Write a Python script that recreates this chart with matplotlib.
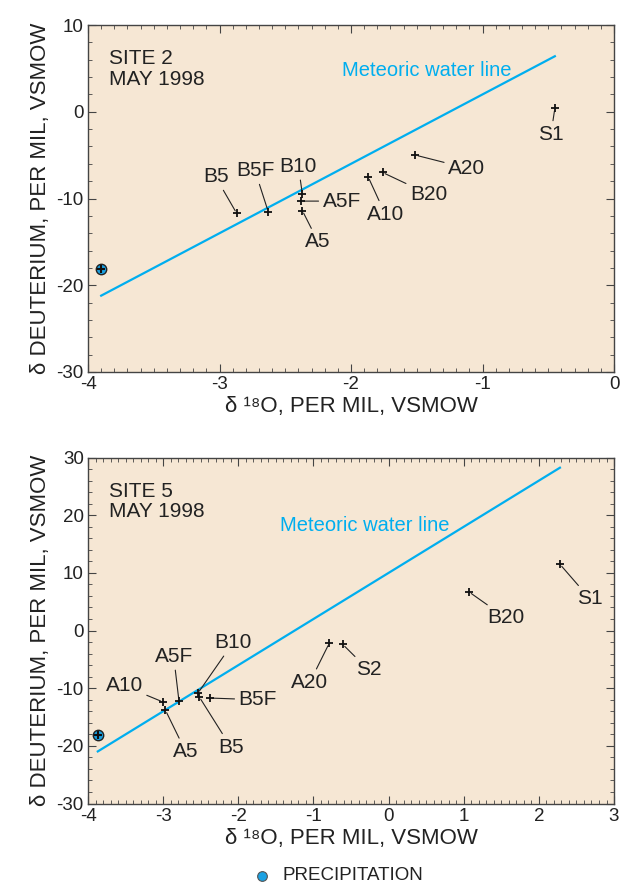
import matplotlib
matplotlib.use("Agg")
import matplotlib.pyplot as plt
from matplotlib.ticker import MultipleLocator

plt.rcParams['font.family'] = ['Liberation Sans', 'DejaVu Sans']
plt.rcParams['axes.unicode_minus'] = False

# Site 2 samples
s2_names = ["B5", "B5F", "B10", "A5F", "A5", "A10", "B20", "A20", "S1"]
s2_o18 = [-2.87, -2.63, -2.37, -2.38, -2.37, -1.87, -1.76, -1.51, -0.45]
s2_dd = [-11.7, -11.5, -9.5, -10.3, -11.4, -7.5, -7.0, -5.0, 0.4]
s2_label_pos = [(-3.03, -7.5), (-2.73, -6.8), (-2.40, -6.3), (-2.07, -10.3),
                (-2.25, -15.0), (-1.74, -11.8), (-1.41, -9.5), (-1.12, -6.5),
                (-0.48, -2.6)]
s2_precip = (-3.9, -18.1)
s2_mwl_x = [-3.9, -0.45]

# Site 5 samples
s5_names = ["A10", "A5", "A5F", "B10", "B5", "B5F", "A20", "S2", "B20", "S1"]
s5_o18 = [-3.0, -2.97, -2.79, -2.54, -2.52, -2.38, -0.79, -0.61, 1.07, 2.28]
s5_dd = [-12.4, -13.8, -12.2, -10.9, -11.5, -11.7, -2.2, -2.4, 6.7, 11.5]
s5_label_pos = [(-3.52, -9.6), (-2.70, -21.0), (-2.86, -4.5), (-2.07, -2.1),
                (-2.10, -20.2), (-1.74, -12.0), (-1.05, -9.0), (-0.27, -6.8),
                (1.56, 2.2), (2.68, 5.5)]
s5_precip = (-3.87, -18.1)
s5_mwl_x = [-3.87, 2.28]

BG = "#F6E7D4"
MWL_COLOR = "#00AEEF"
PRECIP_COLOR = "#1BA1E2"


def mwl(x):
    # global meteoric water line
    return 8 * x + 10


def panel(ax, names, o18, dd, label_pos, precip, mwl_x, title, xlim, ylim,
          mwl_text_pos):
    ax.set_facecolor(BG)
    ax.plot(mwl_x, [mwl(v) for v in mwl_x], color=MWL_COLOR, lw=1.6, zorder=2)
    ax.text(mwl_text_pos[0], mwl_text_pos[1], "Meteoric water line",
            color=MWL_COLOR, fontsize=14.5, ha="left", va="center")
    ax.plot(o18, dd, ls="none", marker="+", ms=5.5, mew=1.3, color="#111111",
            zorder=4)
    for name, x, y, (tx, ty) in zip(names, o18, dd, label_pos):
        ax.annotate(name, xy=(x, y), xytext=(tx, ty), fontsize=15,
                    ha="center", va="center", color="#222222",
                    arrowprops=dict(arrowstyle="-", color="#222222", lw=0.8,
                                    shrinkA=1, shrinkB=2))
    ax.plot(*precip, ls="none", marker="o", ms=7.5, mfc=PRECIP_COLOR,
            mec="#222222", mew=1.0, zorder=5)
    ax.plot(*precip, ls="none", marker="+", ms=5.5, mew=1.5, color="#111111",
            zorder=6)
    ax.text(0.04, 0.93, title, transform=ax.transAxes, fontsize=15,
            ha="left", va="top", color="#222222", linespacing=1.1)
    ax.set_xlim(*xlim)
    ax.set_ylim(*ylim)
    ax.xaxis.set_major_locator(MultipleLocator(1))
    ax.xaxis.set_minor_locator(MultipleLocator(0.1))
    ax.yaxis.set_major_locator(MultipleLocator(10))
    ax.yaxis.set_minor_locator(MultipleLocator(2))
    ax.tick_params(which="both", direction="in", top=True, right=True,
                   color="#444444")
    ax.tick_params(which="major", length=6, labelsize=13.5, pad=3,
                   labelcolor="#222222")
    ax.tick_params(which="minor", length=3)
    for s in ax.spines.values():
        s.set_color("#444444")
        s.set_linewidth(1.0)
    ax.set_xlabel("δ ¹⁸O, PER MIL, VSMOW", fontsize=16, color="#222222",
                  labelpad=2)
    ax.set_ylabel("δ DEUTERIUM, PER MIL, VSMOW", fontsize=16,
                  color="#222222", labelpad=4)


fig = plt.figure(figsize=(6.23, 8.84), dpi=100)
ax1 = fig.add_axes([0.1413, 0.5792, 0.8443, 0.3925])
ax2 = fig.add_axes([0.1413, 0.0910, 0.8443, 0.3914])

panel(ax1, s2_names, s2_o18, s2_dd, s2_label_pos, s2_precip, s2_mwl_x,
      "SITE 2\nMAY 1998", (-4, 0), (-30, 10), (-2.07, 4.7))
panel(ax2, s5_names, s5_o18, s5_dd, s5_label_pos, s5_precip, s5_mwl_x,
      "SITE 5\nMAY 1998", (-4, 3), (-30, 30), (-1.44, 18.2))

# legend
fig.lines.append(plt.Line2D([262 / 623], [1 - 876 / 884], transform=fig.transFigure,
                            ls="none", marker="o", ms=7, mfc=PRECIP_COLOR,
                            mec="#555555", mew=0.8))
fig.text(282 / 623, 1 - 876 / 884, "PRECIPITATION", fontsize=13.5,
         ha="left", va="center", color="#222222")

fig.savefig("out.png", dpi=100)
